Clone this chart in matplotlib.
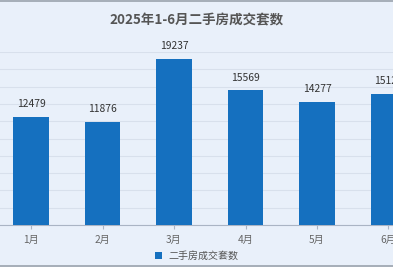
import matplotlib.pyplot as plt
from matplotlib.lines import Line2D

plt.rcParams['font.family'] = ['Noto Sans CJK SC', 'DejaVu Sans']

months = ["1月", "2月", "3月", "4月", "5月", "6月"]
deals = [12479, 11876, 19237, 15569, 14277, 15126]
series_name = "二手房成交套数"

bg = "#e9f0fa"
bar_color = "#1570bf"

fig = plt.figure(figsize=(3.93, 2.67), dpi=100, facecolor=bg)
ax = fig.add_axes([0, 42 / 267, 1, 173 / 267])
ax.set_facecolor(bg)

x = range(len(months))
bars = ax.bar(x, deals, width=0.5, color=bar_color, zorder=3, label=series_name)
for xi, v in zip(x, deals):
    ax.text(xi, v + 900, str(v), ha="center", va="bottom", fontsize=7.4, color="#333333")

ax.set_xlim(-0.434, 5.063)
ax.set_ylim(0, 20000)
ax.set_yticks(range(0, 20001, 2000))
ax.yaxis.grid(True, color="#d8e0ec", linewidth=0.8, zorder=0)
ax.tick_params(axis="y", left=False, labelleft=False)
ax.set_xticks(list(x))
ax.set_xticklabels(months, fontsize=7.3, color="#666666")
ax.tick_params(axis="x", length=3, color="#aab4c4", pad=4)
for s in ["top", "right", "left"]:
    ax.spines[s].set_visible(False)
ax.spines["bottom"].set_color("#aab4c4")

fig.text(0.5, 1 - 20 / 267, "2025年1-6月二手房成交套数", ha="center", va="center",
         fontsize=9.7, fontweight="bold", color="#555555")

fig.legend(handles=[bars], loc="center", bbox_to_anchor=(0.5, 1 - 256 / 267),
           frameon=False, fontsize=7.2, handlelength=0.7, handleheight=0.7,
           handletextpad=0.6, labelcolor="#555555")

fig.add_artist(Line2D([0, 1], [0.998, 0.998], color="#9aa3ad", linewidth=1.2))
fig.add_artist(Line2D([0, 1], [0.004, 0.004], color="#9aa3ad", linewidth=1.2))

fig.savefig("out.png", dpi=100, facecolor=bg)
